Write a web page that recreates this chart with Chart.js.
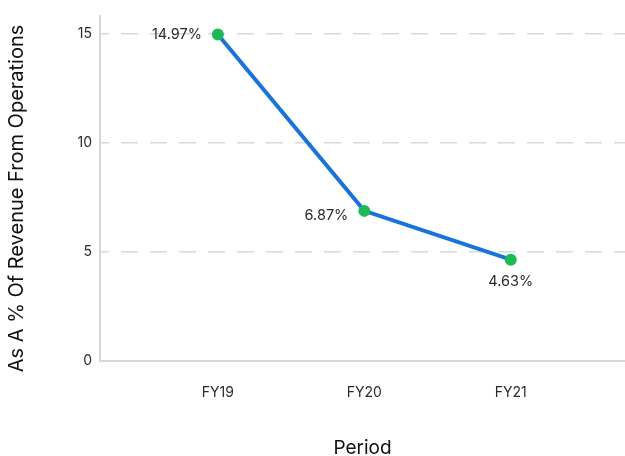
<!DOCTYPE html>
<html>
<head>
<meta charset="utf-8">
<script src="https://cdn.jsdelivr.net/npm/chart.js@4"></script>
<style>
  html, body { margin: 0; padding: 0; background: #fff; }
  #wrap { width: 625px; height: 456px; }
  canvas { display: block; }
</style>
</head>
<body>
<div id="wrap"><canvas id="myChartMargin"></canvas></div>
<script>
const periods = ['FY19', 'FY20', 'FY21'];
const marginPct = [14.97, 6.87, 4.63];
const yTicks = [0, 5, 10, 15];
const yTitle = 'As A % Of Revenue From Operations';
const xTitle = 'Period';
// where each value label sits relative to its point
const labelSide = ['left', 'left', 'below'];

const fontFamily = 'Inter, Roboto, sans-serif';

const valueLabels = {
  id: 'valueLabels',
  afterDatasetsDraw(chart) {
    const c = chart.ctx;
    const pts = chart.getDatasetMeta(0).data;
    c.save();
    c.font = '14.5px ' + fontFamily;
    c.fillStyle = '#2b2b2b';
    pts.forEach((p, i) => {
      const txt = marginPct[i].toFixed(2) + '%';
      c.textBaseline = 'middle';
      if (labelSide[i] === 'left') {
        c.textAlign = 'right';
        c.fillText(txt, p.x - 16, p.y + (i === 0 ? 0 : 5));
      } else {
        c.textAlign = 'center';
        c.fillText(txt, p.x, p.y + 22);
      }
    });
    c.restore();
  }
};

// rotated y title, drawn a little below the middle of the axis
const yTitlePlugin = {
  id: 'yTitlePlugin',
  afterDraw(chart) {
    const c = chart.ctx;
    const area = chart.chartArea;
    c.save();
    c.translate(17, (area.top + area.bottom) / 2 + 10);
    c.rotate(-Math.PI / 2);
    c.font = '20px ' + fontFamily;
    c.fillStyle = '#111';
    c.textAlign = 'center';
    c.textBaseline = 'middle';
    c.fillText(yTitle, 0, 0);
    c.restore();
  }
};

const ctx = document.getElementById('myChartMargin');

new Chart(ctx, {
  type: 'line',
  data: {
    labels: periods,
    datasets: [
      {
        label: 'Margin',
        data: marginPct.map((v, i) => ({ x: i, y: v })),
        borderColor: '#1a73d8',
        borderWidth: 4,
        pointRadius: 6,
        pointHoverRadius: 6,
        pointBackgroundColor: '#1db954',
        pointBorderWidth: 0,
        tension: 0
      }
    ]
  },
  options: {
    responsive: true,
    maintainAspectRatio: false,
    animation: false,
    layout: { autoPadding: false, padding: { top: 13, right: 0, left: 0, bottom: 0 } },
    plugins: {
      legend: { display: false },
      tooltip: { enabled: false }
    },
    scales: {
      x: {
        type: 'linear',
        min: -0.805,
        max: 2.78,
        afterBuildTicks: axis => { axis.ticks = periods.map((p, i) => ({ value: i })); },
        afterFit: axis => {
          axis.height = 95.5;
          axis.paddingLeft = 0;
          axis.paddingRight = 0;
        },
        grid: { display: false, drawTicks: false },
        border: { color: '#d5d8de', width: 2 },
        ticks: {
          color: '#2b2b2b',
          font: { family: fontFamily, size: 14 },
          padding: 24,
          maxRotation: 0,
          callback: v => periods[v]
        },
        title: {
          display: true,
          text: xTitle,
          color: '#111',
          font: { family: fontFamily, size: 19 },
          padding: { top: 0, bottom: -4 }
        }
      },
      y: {
        min: 0,
        max: 15.8,
        afterBuildTicks: axis => { axis.ticks = yTicks.map(v => ({ value: v })); },
        afterFit: axis => { axis.width = 100; },
        grid: {
          color: ctx => ctx.tick && ctx.tick.value === 0 ? 'rgba(0,0,0,0)' : '#d5d8de',
          lineWidth: 1.5,
          drawTicks: false
        },
        border: { color: '#d5d8de', width: 2, dash: [17, 12], dashOffset: 9 },
        ticks: {
          color: '#2b2b2b',
          font: { family: fontFamily, size: 14 },
          padding: 8
        },
        title: { display: false }
      }
    }
  },
  plugins: [valueLabels, yTitlePlugin]
});
</script>
</body>
</html>
